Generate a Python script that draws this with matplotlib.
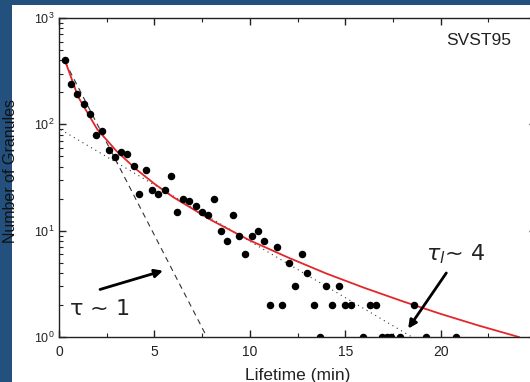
import matplotlib
matplotlib.use('Agg')
import matplotlib.pyplot as plt
from matplotlib.patches import Rectangle

plt.rcParams['font.family'] = ['Liberation Sans', 'DejaVu Sans']
plt.rcParams['mathtext.fontset'] = 'custom'
plt.rcParams['mathtext.rm'] = 'Liberation Sans'

# granule counts per lifetime bin
lifetime = [0.31, 0.63, 0.96, 1.29, 1.62, 1.95, 2.27, 2.60, 2.93, 3.25, 3.58, 3.91,
            4.20, 4.55, 4.87, 5.20, 5.53, 5.86, 6.18, 6.51, 6.82, 7.16, 7.49, 7.82,
            8.13, 8.47, 8.80, 9.11, 9.44, 9.77, 10.10, 10.42, 10.75, 11.06, 11.40,
            11.71, 12.04, 12.37, 12.71, 13.02, 13.35, 13.69, 14.01, 14.33, 14.66,
            14.97, 15.30, 15.93, 16.28, 16.61, 16.91, 17.19, 17.42, 17.85, 18.59,
            19.21, 20.82]
counts = [403, 238, 192, 156, 124, 79, 87, 57, 49, 55, 53, 41,
          22, 37, 24, 22, 24, 33, 15, 20, 19, 17, 15, 14,
          20, 10, 8, 14, 9, 6, 9, 10, 8, 2, 7,
          2, 5, 3, 6, 4, 2, 1, 3, 2, 3,
          2, 2, 1, 2, 2, 1, 1, 1, 1, 2,
          1, 1]

# red fit curve, read at a set of lifetimes
fit_t = [0.31, 1, 2, 3, 4, 5, 6, 8, 10, 12, 14, 16, 18, 20, 22, 24.1]
fit_n = [400, 182, 90, 56.4, 38.4, 27.6, 20.6, 12.5, 8.1, 5.6, 3.96, 2.9, 2.17, 1.65, 1.28, 1.0]

# short (dashed) and long (dotted) exponential components
short_t = [0.31, 7.75]
short_n = [390, 1.0]
long_t = [0.1, 18.5]
long_n = [89, 1.0]

fig = plt.figure(figsize=(5.3, 3.82), dpi=100)
fig.patch.set_facecolor('#24507d')
fig.patches.append(Rectangle((12 / 530, 0), 1, 377 / 382, transform=fig.transFigure,
                             facecolor='white', edgecolor='none', zorder=-10))

ax = fig.add_axes([59 / 530, 45 / 382, 477 / 530, 319 / 382])
ax.set_yscale('log')
ax.set_xlim(0, 25)
ax.set_ylim(1, 1000)

ax.plot(short_t, short_n, color='#333333', lw=0.8, ls=(0, (5, 4)))
ax.plot(long_t, long_n, color='#333333', lw=0.8, ls=(0, (1, 3.5)))
ax.plot(fit_t, fit_n, color='#e3262a', lw=1.3)
ax.plot(lifetime, counts, 'o', color='black', ms=4.4)

ax.text(0.88, 0.93, 'SVST95', transform=ax.transAxes, fontsize=12.5,
        ha='center', va='center', color='#222222')
ax.annotate('', xy=(5.45, 4.2), xytext=(2.15, 2.8),
            arrowprops=dict(arrowstyle='-|>', color='black', lw=2, mutation_scale=12,
                            shrinkA=0, shrinkB=0))
ax.text(2.1, 1.85, r'$\mathregular{\tau}$ ~ 1', fontsize=16, ha='center', va='center',
        color='#222222', family=['DejaVu Sans'])
ax.annotate('', xy=(18.3, 1.2), xytext=(20.3, 4.0),
            arrowprops=dict(arrowstyle='-|>', color='black', lw=2, mutation_scale=12,
                            shrinkA=0, shrinkB=0))
ax.text(20.8, 6.0, r'$\tau_l$~ 4', fontsize=16, ha='center', va='center',
        color='#222222', family=['DejaVu Sans'])

ax.set_xticks([0, 5, 10, 15, 20])
ax.set_xticks([2.5, 7.5, 12.5, 17.5, 22.5], minor=True)
ax.tick_params(which='both', direction='in', top=True, right=True, labelsize=10,
               colors='#222222')
ax.tick_params(which='major', length=5, width=1)
ax.tick_params(which='minor', length=3, width=0.8)
ax.tick_params(axis='y', labelsize=9)
ax.tick_params(axis='x', pad=6)
for s in ax.spines.values():
    s.set_linewidth(1)
    s.set_color('#222222')

ax.set_xlabel('Lifetime (min)', fontsize=12.5, color='#222222', labelpad=6)
ax.set_ylabel('Number of Granules', fontsize=11.5, color='#111111')
ax.yaxis.set_label_coords(-0.086, 0.52)

fig.savefig('out.png', dpi=100, facecolor=fig.get_facecolor())
